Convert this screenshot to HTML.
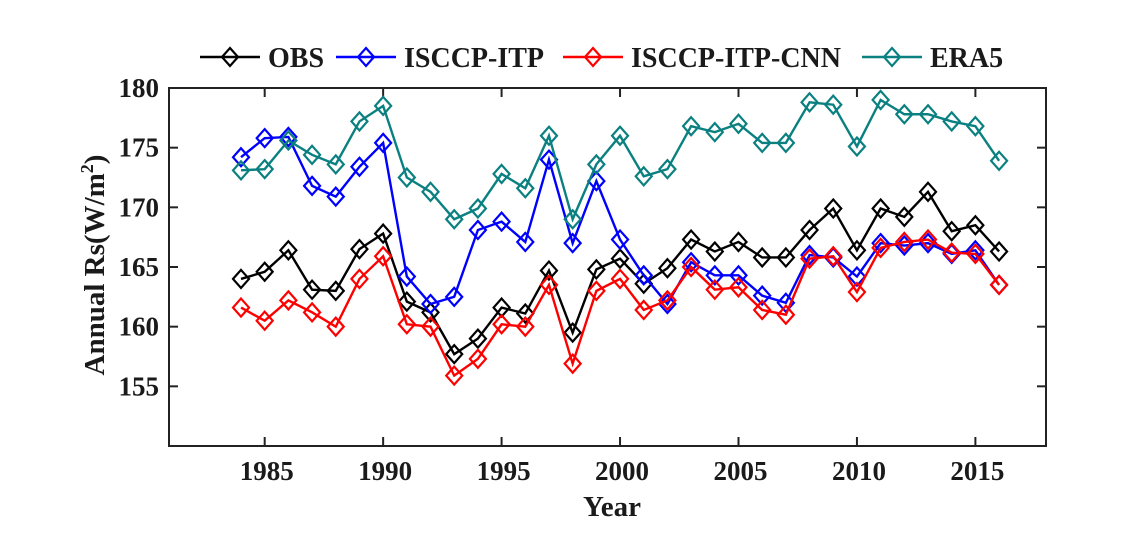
<!DOCTYPE html>
<html><head><meta charset="utf-8"><style>
body{margin:0;background:#fff;width:1134px;height:531px;overflow:hidden}
svg text{font-family:"Liberation Serif",serif;font-weight:bold;fill:#1a1a1a}
</style></head><body>
<svg id="chart" width="1134" height="531" xmlns="http://www.w3.org/2000/svg"></svg>
<script>
const years=[1984,1985,1986,1987,1988,1989,1990,1991,1992,1993,1994,1995,1996,1997,1998,1999,2000,2001,2002,2003,2004,2005,2006,2007,2008,2009,2010,2011,2012,2013,2014,2015,2016];
const obs=[164.0,164.6,166.4,163.1,163.0,166.5,167.8,162.1,161.2,157.7,159.0,161.6,161.1,164.7,159.5,164.8,165.7,163.6,164.9,167.3,166.3,167.1,165.8,165.8,168.1,169.9,166.4,169.9,169.2,171.3,168.0,168.5,166.3];
const itp=[174.2,175.8,175.9,171.8,170.9,173.4,175.4,164.2,161.9,162.5,168.1,168.8,167.1,174.0,167.0,172.2,167.3,164.3,161.9,165.4,164.3,164.3,162.6,162.0,166.0,165.8,164.2,167.0,166.8,167.0,166.1,166.4,163.5];
const cnn=[161.6,160.5,162.2,161.2,160.0,164.0,165.9,160.2,160.0,155.9,157.3,160.2,160.0,163.5,156.9,163.0,164.0,161.4,162.2,165.0,163.1,163.3,161.4,161.0,165.7,165.9,162.9,166.6,167.1,167.3,166.2,166.1,163.5];
const era5=[173.1,173.2,175.6,174.4,173.6,177.2,178.5,172.5,171.3,169.0,169.9,172.8,171.6,176.0,169.0,173.6,176.0,172.6,173.2,176.8,176.3,177.0,175.4,175.4,178.8,178.6,175.1,179.0,177.8,177.8,177.2,176.8,173.9];
const xTicks=[1985,1990,1995,2000,2005,2010,2015];
const yTicks=[155,160,165,170,175,180];
const seriesNames=["OBS","ISCCP-ITP","ISCCP-ITP-CNN","ERA5"];
const seriesColors=["#000000","#0000ff","#ff0000","#0b8080"];

const svg=document.getElementById('chart');
const NS="http://www.w3.org/2000/svg";
const L=169,R=1046,T=88,B=446;
const x=v=>241+(v-1984)*23.69;
const y=v=>B-(v-150)*(B-T)/30;
function mk(tag,attrs,parent){const e=document.createElementNS(NS,tag);for(const k in attrs)e.setAttribute(k,attrs[k]);(parent||svg).appendChild(e);return e;}
const frame=mk('rect',{x:L,y:T,width:R-L,height:B-T,fill:'none',stroke:'#222','stroke-width':2});


xTicks.forEach(t=>{
  const g=mk('g',{});
  
  
  mk('line',{x1:x(t),x2:x(t),y1:B,y2:B-9,stroke:'#222','stroke-width':2},g);
  mk('line',{x1:x(t),x2:x(t),y1:T,y2:T+9,stroke:'#222','stroke-width':2},g);
  const tx=mk('text',{x:x(t)+2,y:480,'text-anchor':'middle','font-size':27},g);tx.textContent=t;
});
yTicks.forEach(t=>{
  const g=mk('g',{});
  
  
  mk('line',{x1:L,x2:L+9,y1:y(t),y2:y(t),stroke:'#222','stroke-width':2},g);
  mk('line',{x1:R,x2:R-9,y1:y(t),y2:y(t),stroke:'#222','stroke-width':2},g);
  const tx=mk('text',{x:159,y:y(t)+9,'text-anchor':'end','font-size':27},g);tx.textContent=t;
});
const xt=mk('text',{x:612,y:516,'text-anchor':'middle','font-size':29});xt.textContent='Year';


const yt=mk('text',{x:0,y:0,'text-anchor':'middle','font-size':29,transform:'translate(104,265) rotate(-90)'});
yt.innerHTML='Annual Rs(W/m<tspan dy="-11" font-size="18">2</tspan><tspan dy="11">)</tspan>';


function diamond(cx,cy,c,p){return mk('polygon',{points:`${cx},${cy-9} ${cx+8},${cy} ${cx},${cy+9} ${cx-8},${cy}`,fill:'none',stroke:c,'stroke-width':2.2},p);}
[obs,itp,cnn,era5].forEach((d,i)=>{
  const g=mk('g',{});
  
  
  mk('polyline',{points:d.map((v,j)=>x(years[j])+','+y(v)).join(' '),fill:'none',stroke:seriesColors[i],'stroke-width':2.4},g);
  d.forEach((v,j)=>{const m=diamond(x(years[j]),y(v),seriesColors[i],g);
    
    });
});
const legX=[200,336,563,862];
const lg=mk('g',{});


seriesNames.forEach((n,i)=>{
  const g=mk('g',{},lg);
  
  
  mk('line',{x1:legX[i],x2:legX[i]+60,y1:57,y2:57,stroke:seriesColors[i],'stroke-width':2.4},g);
  diamond(legX[i]+30,57,seriesColors[i],g);
  const t=mk('text',{x:legX[i]+68,y:67,'font-size':28},g);t.textContent=n;
});
</script>
</body></html>
